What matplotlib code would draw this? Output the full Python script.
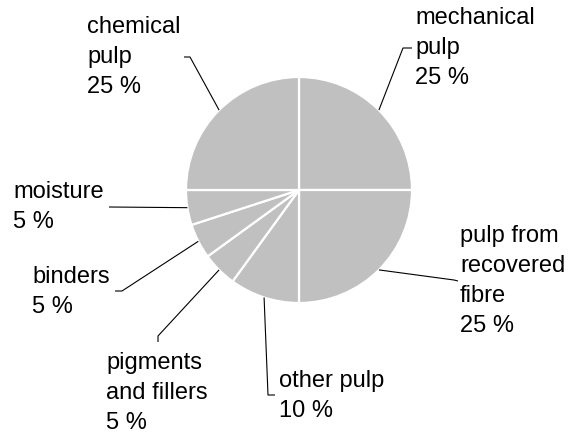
import numpy as np
import matplotlib
matplotlib.use("Agg")
import matplotlib.pyplot as plt

# composition of paper (share in %)
labels = ["mechanical\npulp", "pulp from\nrecovered\nfibre", "other pulp",
          "pigments\nand fillers", "binders", "moisture", "chemical\npulp"]
shares = [25, 25, 10, 5, 5, 5, 25]

W, H = 576, 433
plt.rcParams.update({
    "font.family": ["Liberation Sans", "DejaVu Sans"],
    "font.size": 17,
})

fig = plt.figure(figsize=(W / 100, H / 100), dpi=100)
ax = fig.add_axes([0, 0, 1, 1])

cx, cy, r = 299, H - 190, 113
wedges, _ = ax.pie(
    shares,
    startangle=90,
    counterclock=False,
    center=(cx, cy),
    radius=r,
    colors=["#c0c0c0"] * len(shares),
    wedgeprops=dict(edgecolor="white", linewidth=1.6),
)
ax.set_xlim(0, W)
ax.set_ylim(0, H)
ax.set_aspect("equal")
ax.axis("off")

# label layout in pixel coords (y down): text anchor, alignment, leader bend + end
layout = [
    dict(xy=(415, 48), ha="left", bend=(403, 48), end=(412, 48)),
    dict(xy=(460, 281), ha="left", bend=(454, 280), end=(458, 281)),
    dict(xy=(279, 396), ha="left", bend=(268, 395), end=(275, 395)),
    dict(xy=(157, 393), ha="center", bend=(158, 336), end=(158, 342)),
    dict(xy=(32, 292), ha="left", bend=(122, 291), end=(115, 291)),
    dict(xy=(13, 207), ha="left", bend=(109, 207), end=(109, 207)),
    dict(xy=(87, 57), ha="left", bend=(190, 57), end=(184, 57)),
]

for w, lab, val, lay in zip(wedges, labels, shares, layout):
    mid = np.deg2rad((w.theta1 + w.theta2) / 2)
    x0 = cx + r * np.cos(mid)
    y0 = cy + r * np.sin(mid)
    bx, by = lay["bend"]
    ex, ey = lay["end"]
    ax.plot([x0, bx, ex], [y0, H - by, H - ey], color="black", lw=0.8,
            solid_capstyle="butt")
    tx, ty = lay["xy"]
    ax.text(tx, H - ty, f"{lab}\n{val} %", ha=lay["ha"], va="center",
            multialignment="left", linespacing=1.47, color="black")

fig.savefig("out.png", dpi=100)
